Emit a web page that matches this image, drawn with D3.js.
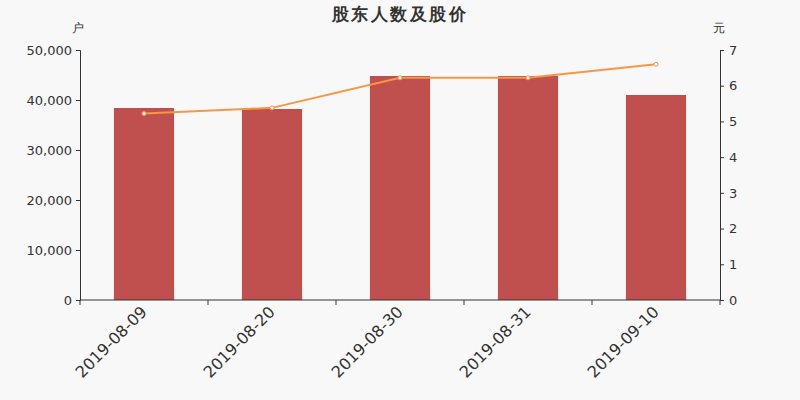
<!DOCTYPE html>
<html>
<head>
<meta charset="utf-8">
<script src="https://cdn.jsdelivr.net/npm/d3@7"></script>
<style>
  html, body { margin: 0; padding: 0; background: #f8f8f8; }
  svg { display: block; }
  svg text { font-family: "DejaVu Sans", sans-serif; }
</style>
</head>
<body>
<div id="chart"></div>
<script>
// data
var dates = ["2019-08-09", "2019-08-20", "2019-08-30", "2019-08-31", "2019-09-10"];
var holders = [38400, 38200, 44800, 44800, 41000];
var prices = [5.22, 5.38, 6.22, 6.22, 6.60];
var leftTicks = [0, 10000, 20000, 30000, 40000, 50000];
var rightTicks = [0, 1, 2, 3, 4, 5, 6, 7];

var width = 800, height = 400;
var margin = {top: 50, right: 80, bottom: 100, left: 80};
var textColor = "#333";
var barColor = "#c0504d";
var lineColor = "#f79646";

var svg = d3.select("#chart").append("svg")
  .attr("width", width)
  .attr("height", height);

var x = d3.scaleBand()
  .domain(dates)
  .range([margin.left, width - margin.right])
  .paddingInner(0.53)
  .paddingOuter(0.265);

var xOuter = d3.scaleBand()
  .domain(dates)
  .range([margin.left, width - margin.right]);

var yLeft = d3.scaleLinear()
  .domain([0, 50000])
  .range([height - margin.bottom, margin.top]);

var yRight = d3.scaleLinear()
  .domain([0, 7])
  .range([height - margin.bottom, margin.top]);

// title
svg.append("text")
  .attr("x", width / 2)
  .attr("y", 20)
  .attr("text-anchor", "middle")
  .attr("fill", textColor)
  .style("font-size", "17px")
  .style("font-weight", "bold")
  .style("letter-spacing", "2.5px")
  .text("股东人数及股价");

// axis units
svg.append("text")
  .attr("x", 78).attr("y", 32)
  .attr("text-anchor", "middle")
  .attr("fill", textColor)
  .style("font-size", "12px")
  .text("户");
svg.append("text")
  .attr("x", 719).attr("y", 32)
  .attr("text-anchor", "middle")
  .attr("fill", textColor)
  .style("font-size", "12px")
  .text("元");

// bars
svg.append("g").selectAll("rect")
  .data(holders)
  .join("rect")
  .attr("x", function(d, i) { return x(dates[i]); })
  .attr("y", function(d) { return yLeft(d); })
  .attr("width", x.bandwidth())
  .attr("height", function(d) { return yLeft(0) - yLeft(d); })
  .attr("fill", barColor);

// left axis
var gl = svg.append("g")
  .attr("transform", "translate(" + margin.left + ",0)")
  .call(d3.axisLeft(yLeft).tickValues(leftTicks).tickSize(4).tickPadding(4).tickFormat(d3.format(",")));

// right axis
var gr = svg.append("g")
  .attr("transform", "translate(" + (width - margin.right) + ",0)")
  .call(d3.axisRight(yRight).tickValues(rightTicks).tickSize(4).tickPadding(5).tickFormat(d3.format("d")));

svg.selectAll("g[font-family]").attr("font-family", null);
gl.selectAll("text").style("font-size", "13px").attr("fill", textColor);
gr.selectAll("text").style("font-size", "13px").attr("fill", textColor);

// x axis
var boundaries = dates.map(function(d) { return xOuter(d); }).concat([width - margin.right]);
var gx = svg.append("g")
  .attr("transform", "translate(0," + (height - margin.bottom) + ")");
gx.append("line")
  .attr("x1", margin.left).attr("x2", width - margin.right)
  .attr("stroke", textColor);
gx.selectAll("line.tick")
  .data(boundaries)
  .join("line")
  .attr("class", "tick")
  .attr("x1", function(d) { return d; }).attr("x2", function(d) { return d; })
  .attr("y1", 0).attr("y2", 5)
  .attr("stroke", textColor);
gx.selectAll("text")
  .data(dates)
  .join("text")
  .attr("transform", function(d) {
    return "translate(" + (x(d) + x.bandwidth() / 2) + ",9) rotate(-45)";
  })
  .attr("text-anchor", "end")
  .attr("dy", "0.35em")
  .attr("fill", textColor)
  .style("font-size", "16px")
  .text(function(d) { return d; });

svg.selectAll(".domain, .tick line").attr("stroke", textColor);

// price line
var line = d3.line()
  .x(function(d, i) { return x(dates[i]) + x.bandwidth() / 2; })
  .y(function(d) { return yRight(d); });

svg.append("path")
  .datum(prices)
  .attr("d", line)
  .attr("fill", "none")
  .attr("stroke", lineColor)
  .attr("stroke-width", 2);

svg.append("g").selectAll("circle")
  .data(prices)
  .join("circle")
  .attr("cx", function(d, i) { return x(dates[i]) + x.bandwidth() / 2; })
  .attr("cy", function(d) { return yRight(d); })
  .attr("r", 2)
  .attr("fill", "#fff")
  .attr("stroke", lineColor)
  .attr("stroke-width", 1);
</script>
</body>
</html>
